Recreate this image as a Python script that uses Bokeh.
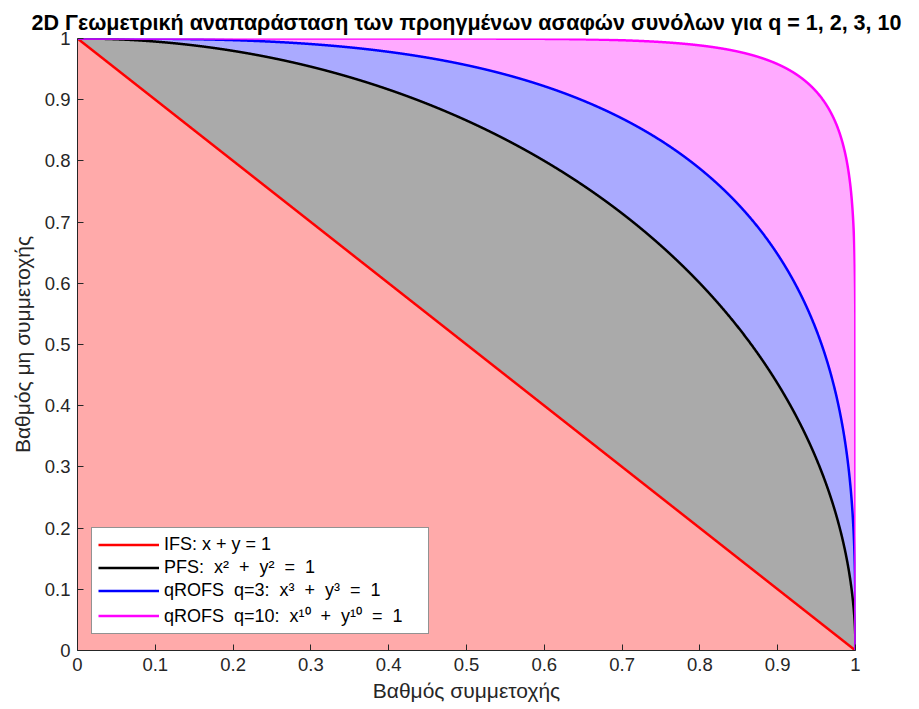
import numpy as np
from bokeh.plotting import figure
from bokeh.models import Range1d, FixedTicker, Legend, LegendItem
from bokeh.embed import file_html
from bokeh.resources import INLINE

# Orders of the fuzzy-set families and their styling
q_values = [1, 2, 3, 10]
line_colors = ["#ff0000", "#000000", "#0000ff", "#ff00ff"]
fill_colors = ["#ffaaaa", "#aaaaaa", "#aaaaff", "#ffaaff"]
legend_labels = [
    "IFS: x + y = 1",
    "PFS:  x\u00b2  +  y\u00b2  =  1",
    "qROFS  q=3:  x\u00b3  +  y\u00b3  =  1",
    "qROFS  q=10:  x\u00b9\u2070  +  y\u00b9\u2070  =  1",
]
tick_values = [0, 0.1, 0.2, 0.3, 0.4, 0.5, 0.6, 0.7, 0.8, 0.9, 1]
tick_labels = ["0", "0.1", "0.2", "0.3", "0.4", "0.5", "0.6", "0.7", "0.8", "0.9", "1"]

FONT = "Liberation Sans"

# boundary x^q + y^q = 1, sampled densely so steep ends stay sharp
x = np.linspace(0, 1, 4001)
def boundary(q):
    return np.clip(1 - x ** q, 0, 1) ** (1.0 / q)

p = figure(
    width=919, height=709,
    frame_width=778, frame_height=612,
    x_range=Range1d(0, 1), y_range=Range1d(0, 1),
    output_backend="svg", toolbar_location=None,
    min_border_left=77, min_border_right=64,
    min_border_top=38, min_border_bottom=59,
)
p.background_fill_color = "white"
p.border_fill_color = "white"
p.outline_line_color = None
p.grid.visible = False

p.title.text = "2D Γεωμετρική αναπαράσταση των προηγμένων ασαφών συνόλων για q = 1, 2, 3, 10"
p.title.text_font = FONT
p.title.text_font_size = "21.5px"
p.title.text_font_style = "bold"
p.title.text_color = "#000000"
p.title.align = "center"
p.title.offset = 6
p.title.standoff = 8

# shaded regions: largest family first, smaller ones drawn on top
for q, fc in reversed(list(zip(q_values, fill_colors))):
    p.varea(x=x, y1=np.zeros_like(x), y2=boundary(q), fill_color=fc, fill_alpha=1.0)

renderers = []
for q, lc in zip(q_values, line_colors):
    r = p.line(x, boundary(q), line_color=lc, line_width=2.5)
    renderers.append(r)

for ax, label in ((p.xaxis[0], "Βαθμός συμμετοχής"), (p.yaxis[0], "Βαθμός μη συμμετοχής")):
    ax.ticker = FixedTicker(ticks=tick_values)
    ax.major_label_overrides = {v: s for v, s in zip(tick_values, tick_labels)}
    ax.minor_tick_line_color = None
    ax.major_tick_in = 6
    ax.major_tick_out = 0
    ax.axis_line_color = "#262626"
    ax.major_tick_line_color = "#262626"
    ax.major_label_text_font = FONT
    ax.major_label_text_font_size = "18.5px"
    ax.major_label_text_color = "#262626"
    ax.axis_label = label
    ax.axis_label_text_font = FONT
    ax.axis_label_text_font_size = "21px"
    ax.axis_label_text_font_style = "normal"
    ax.axis_label_text_color = "#262626"
p.xaxis.major_label_standoff = 7
p.yaxis.major_label_standoff = 7
p.xaxis.axis_label_standoff = 5
p.yaxis.axis_label_standoff = 8

legend = Legend(
    items=[LegendItem(label=l, renderers=[r]) for l, r in zip(legend_labels, renderers)],
    location=(14, 16),
    label_text_font=FONT,
    label_text_font_size="18px",
    label_text_color="#000000",
    glyph_width=61, glyph_height=19, label_height=19,
    label_width=258,
    spacing=2, padding=6, margin=0,
    label_standoff=5,
    border_line_color="#262626",
    background_fill_color="white", background_fill_alpha=1.0,
)
p.add_layout(legend, "center")

open("out.html", "w").write(file_html(p, INLINE))
